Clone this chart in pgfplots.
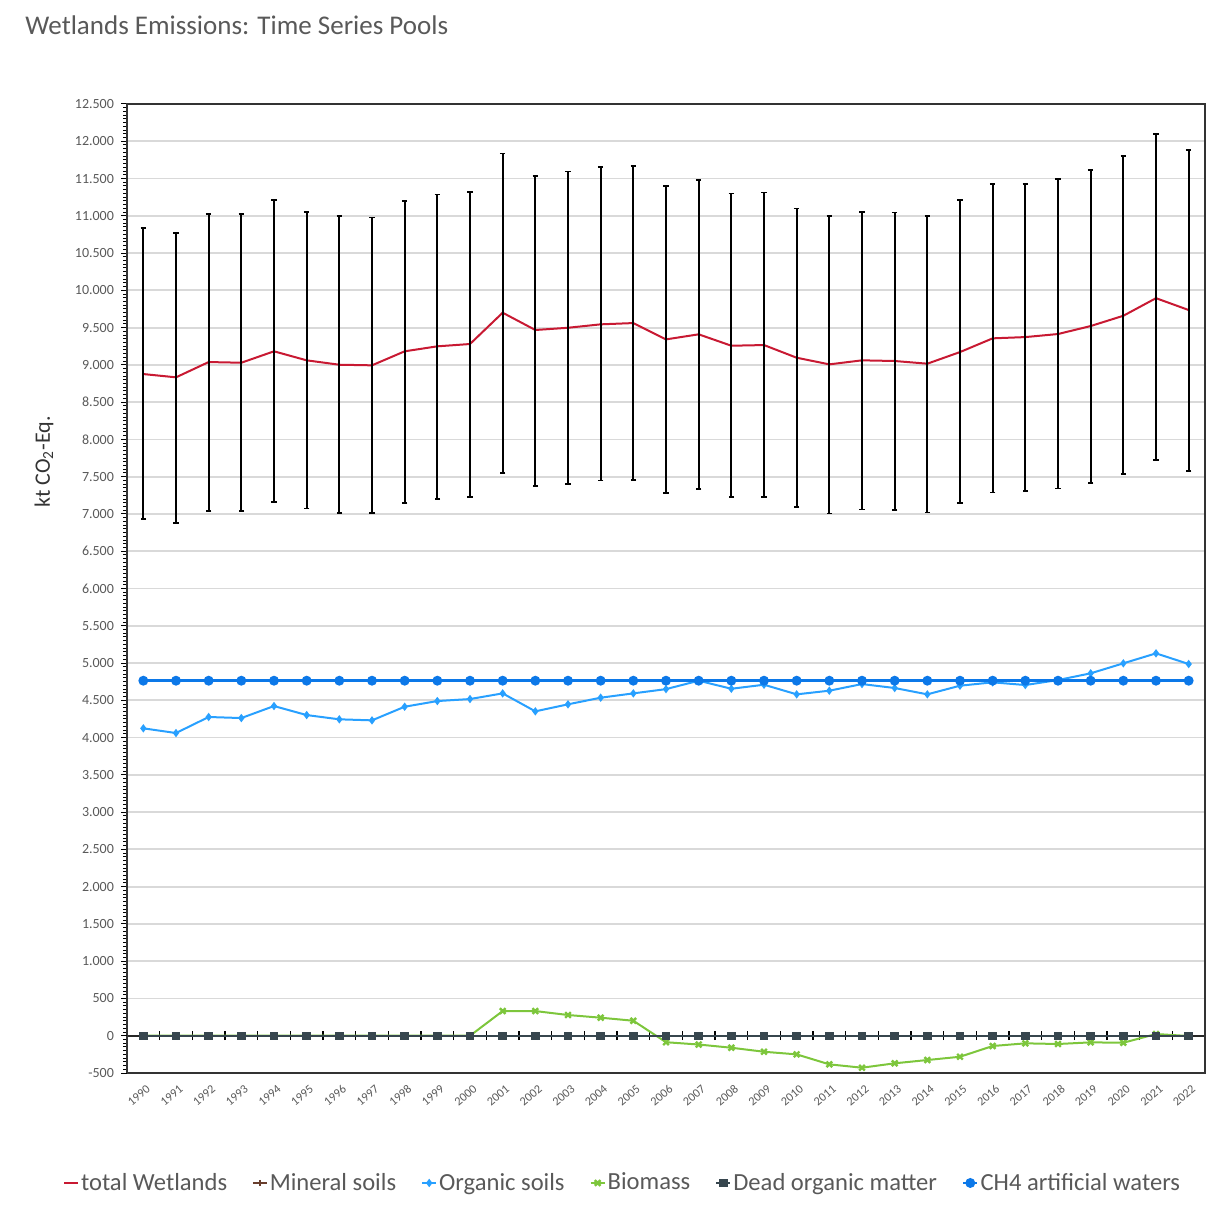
\documentclass[border=0pt]{standalone}
\usepackage{pgfplots}
\usepackage{pgfplotstable}
\pgfplotsset{compat=1.18}
\usepackage{fontspec}
\setmainfont{Carlito}
\definecolor{cTotal}{RGB}{200,25,50}
\definecolor{cMin}{RGB}{105,62,45}
\definecolor{cOrg}{RGB}{40,160,255}
\definecolor{cBio}{RGB}{125,198,60}
\definecolor{cDom}{RGB}{55,70,78}
\definecolor{cCH4}{RGB}{12,120,232}
\definecolor{cTxt}{RGB}{89,89,89}

\pgfplotstableread{
year total ep em
1990 8877 1959 1945
1991 8833 1936 1951
1992 9038 1990 1995
1993 9029 1995 1990
1994 9182 2030 2022
1995 9061 1994 1986
1996 9002 1995 1990
1997 8994 1985 1982
1998 9182 2020 2031
1999 9249 2039 2045
2000 9280 2043 2049
2001 9700 2138 2147
2002 9468 2065 2093
2003 9498 2098 2097
2004 9544 2114 2093
2005 9561 2106 2106
2006 9342 2058 2057
2007 9410 2070 2072
2008 9257 2044 2030
2009 9266 2049 2035
2010 9096 2004 2003
2011 9007 1990 1999
2012 9061 1994 1999
2013 9052 1994 1999
2014 9016 1981 1999
2015 9172 2040 2021
2016 9356 2070 2066
2017 9373 2057 2065
2018 9414 2079 2071
2019 9521 2093 2102
2020 9659 2143 2123
2021 9895 2201 2172
2022 9736 2147 2156
}\totaltab

\pgfplotstableread{
year mineral organic biomass dom ch4
1990 0 4124 0 0 4763
1991 0 4061 0 0 4763
1992 0 4276 0 0 4763
1993 0 4262 0 0 4763
1994 0 4423 0 0 4763
1995 0 4302 0 0 4763
1996 0 4245 0 0 4763
1997 0 4231 0 0 4763
1998 0 4414 0 0 4763
1999 0 4490 0 0 4763
2000 0 4517 0 0 4763
2001 0 4593 331 0 4763
2002 0 4352 331 0 4763
2003 0 4446 278 0 4763
2004 0 4535 242 0 4763
2005 0 4593 201 0 4763
2006 0 4650 -87 0 4763
2007 0 4763 -118 0 4763
2008 0 4655 -161 0 4763
2009 0 4709 -215 0 4763
2010 0 4580 -250 0 4763
2011 0 4629 -384 0 4763
2012 0 4718 -429 0 4763
2013 0 4665 -370 0 4763
2014 0 4580 -326 0 4763
2015 0 4696 -282 0 4763
2016 0 4741 -138 0 4763
2017 0 4705 -102 0 4763
2018 0 4772 -111 0 4763
2019 0 4862 -89 0 4763
2020 0 4996 -94 0 4763
2021 0 5130 23 0 4763
2022 0 4987 -4 0 4763
}\pooltab

\begin{document}
\begin{tikzpicture}
\path[use as bounding box] (0pt,0pt) rectangle (608.5pt,611.5pt);
\node[anchor=west, inner sep=0pt, font=\fontsize{13.5}{15}\selectfont, text=cTxt] at (12.5pt,599pt) {Wetlands Emissions: Time Series Pools};
\node[rotate=90, inner sep=0pt, font=\fontsize{11}{13}\selectfont, text=black!80] at (22pt,380.5pt) {kt CO\textsubscript{2}-Eq.};

% zero line with category-boundary ticks (drawn behind the series)
\begin{axis}[at={(63.5pt,75pt)}, anchor=south west, scale only axis,
  width=539pt, height=484.5pt,
  xmin=1989.5, xmax=2022.5, ymin=-500, ymax=12500,
  axis x line*=middle, axis y line=none,
  xtick={1989.5,1990.5,...,2022.5}, xticklabels={}, ytick=\empty,
  major tick length=4.5pt, tick align=center,
  x axis line style={black!85, line width=1.2pt},
  xtick style={black, line width=0.6pt}]
\end{axis}

\begin{axis}[at={(63.5pt,75pt)}, anchor=south west, scale only axis,
  width=539pt, height=484.5pt,
  xmin=1989.5, xmax=2022.5, ymin=-500, ymax=12500,
  scaled y ticks=false, scaled x ticks=false,
  xtick={1990,1991,...,2022},
  xticklabels={1990,1991,1992,1993,1994,1995,1996,1997,1998,1999,2000,2001,2002,2003,2004,2005,2006,2007,2008,2009,2010,2011,2012,2013,2014,2015,2016,2017,2018,2019,2020,2021,2022},
  xticklabel style={rotate=40, anchor=north east, font=\fontsize{6.1}{7}\selectfont, text=cTxt, inner sep=0.5pt, yshift=-2pt},
  xtick style={draw=none},
  ytick={500,1000,1500,2000,2500,3000,3500,4000,4500,5000,5500,6000,6500,7000,7500,8000,8500,9000,9500,10000,10500,11000,11500,12000,12500},
  yticklabels={500,1.000,1.500,2.000,2.500,3.000,3.500,4.000,4.500,5.000,5.500,6.000,6.500,7.000,7.500,8.000,8.500,9.000,9.500,10.000,10.500,11.000,11.500,12.000,12.500},
  extra y ticks={-500,0}, extra y tick labels={-500,0},
  extra y tick style={grid=none},
  minor ytick={-450,-400,...,12450},
  tick pos=left, tick align=outside,
  major tick length=3pt, minor tick length=2pt,
  ytick style={black, line width=0.5pt}, minor tick style={black, line width=0.5pt},
  yticklabel style={font=\fontsize{7}{8}\selectfont, text=cTxt},
  ymajorgrids, major grid style={black!15, line width=0.9pt},
  axis line style={black!80, line width=0.8pt},
  legend columns=6,
  legend style={at={(0.4597,-0.1135)}, anchor=center, draw=none, fill=none,
    font=\fontsize{12.3}{14}\selectfont, text=cTxt,
    /tikz/every even column/.append style={column sep=11.5pt}, inner sep=0pt,
    nodes={inner xsep=1pt}},
  legend image code/.code={\draw[mark repeat=2, mark phase=2] plot coordinates {(0pt,0pt) (3.5pt,0pt) (7pt,0pt)};},
]
\addplot[cTotal, line width=1pt, no marks,
  error bars/.cd, y dir=both, y explicit,
  error bar style={black, line width=1pt},
  error mark options={rotate=90, mark size=1.4pt, black, line width=0.8pt}]
  table[x=year, y=total, y error plus=ep, y error minus=em] {\totaltab};
\addlegendentry{total Wetlands}
\addplot[cMin, line width=0.8pt, mark=+, mark size=1.6pt] table[x=year, y=mineral] {\pooltab};
\addlegendentry{Mineral soils}
\addplot[cOrg, line width=1pt, mark=diamond*, mark size=1.3pt] table[x=year, y=organic] {\pooltab};
\addlegendentry{Organic soils}
\addplot[cBio, line width=1pt, mark=x, mark size=2pt, mark options={line width=1.2pt}] table[x=year, y=biomass] {\pooltab};
\addlegendentry{Biomass}
\addplot[cDom, line width=1pt, mark=square*, mark size=1.6pt] table[x=year, y=dom] {\pooltab};
\addlegendentry{Dead organic matter}
\addplot[cCH4, line width=1.3pt, mark=*, mark size=1.8pt] table[x=year, y=ch4] {\pooltab};
\addlegendentry{CH4 artificial waters}
\end{axis}
\end{tikzpicture}
\end{document}
